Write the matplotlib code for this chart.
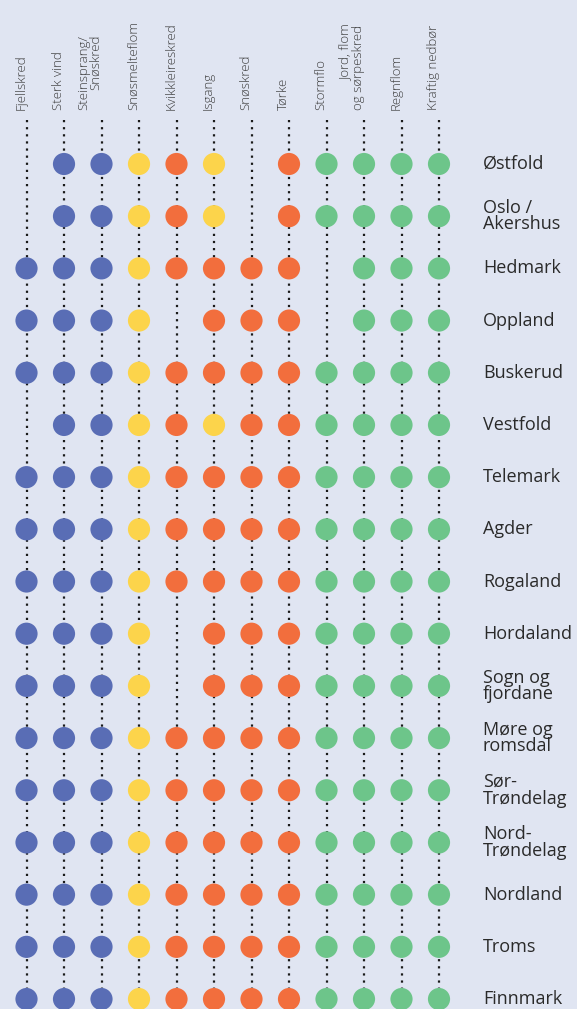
import matplotlib
matplotlib.use("Agg")
import matplotlib.pyplot as plt
import numpy as np

# Column headers (hazard types)
hazards = ["Fjellskred", "Sterk vind", "Steinsprang/\nSnøskred", "Snøsmelteflom",
           "Kvikkleireskred", "Isgang", "Snøskred", "Tørke", "Stormflo",
           "Jord, flom\nog sørpeskred", "Regnflom", "Kraftig nedbør"]

# Row labels (counties)
regions = ["Østfold", "Oslo /\nAkershus", "Hedmark", "Oppland", "Buskerud", "Vestfold",
           "Telemark", "Agder", "Rogaland", "Hordaland", "Sogn og\nfjordane",
           "Møre og\nromsdal", "Sør-\nTrøndelag", "Nord-\nTrøndelag", "Nordland",
           "Troms", "Finnmark"]

# one code per hazard: b=blue, y=yellow, o=orange, g=green, -=none
matrix = [
    "-bbyoy-ogggg",  # Østfold
    "-bbyoy-ogggg",  # Oslo / Akershus
    "bbbyoooo-ggg",  # Hedmark
    "bbby-ooo-ggg",  # Oppland
    "bbbyoooogggg",  # Buskerud
    "-bbyoyoogggg",  # Vestfold
    "bbbyoooogggg",  # Telemark
    "bbbyoooogggg",  # Agder
    "bbbyoooogggg",  # Rogaland
    "bbby-ooogggg",  # Hordaland
    "bbby-ooogggg",  # Sogn og fjordane
    "bbbyoooogggg",  # Møre og romsdal
    "bbbyoooogggg",  # Sør-Trøndelag
    "bbbyoooogggg",  # Nord-Trøndelag
    "bbbyoooogggg",  # Nordland
    "bbbyoooogggg",  # Troms
    "bbbyoooogggg",  # Finnmark
]

palette = {"b": "#596db5", "y": "#fcd44b", "o": "#f26e3d", "g": "#6dc58a"}
bg = "#e0e5f2"
text_col = "#2a2a2a"

plt.rcParams['font.family'] = ['Open Sans', 'DejaVu Sans']

fig = plt.figure(figsize=(5.77, 10.09), dpi=100)
fig.patch.set_facecolor(bg)
ax = fig.add_axes([0, 0, 1, 1])
ax.set_facecolor(bg)

# scale: column step 37.5 px starting at 26.5 px, row step 52.2 px starting at 164 px
ax.set_xlim(-26.5 / 37.5, (577 - 26.5) / 37.5)
ax.set_ylim((1009 - 164) / 52.19, -164 / 52.19)
ax.axis("off")

n_rows = len(regions)
for i, name in enumerate(hazards):
    ax.plot([i, i], [-0.84, n_rows + 1], linestyle=(0, (1, 2.2)), color="#1a1a1a",
            linewidth=1.6, zorder=1)
    ax.text(i + 0.02, -1.04, name, rotation=90, ha="right", va="bottom",
            fontsize=9.5, color="#3a3a3a", linespacing=0.9, fontweight="light")

for j, row in enumerate(matrix):
    xs = [i for i, c in enumerate(row) if c != "-"]
    cs = [palette[c] for c in row if c != "-"]
    ax.scatter(xs, [j] * len(xs), s=255, c=cs, edgecolors="none", zorder=3)
    ax.text(12.17, j, regions[j], ha="left", va="center", fontsize=13,
            color=text_col, linespacing=0.9)

fig.savefig("out.png", dpi=100, facecolor=bg)
